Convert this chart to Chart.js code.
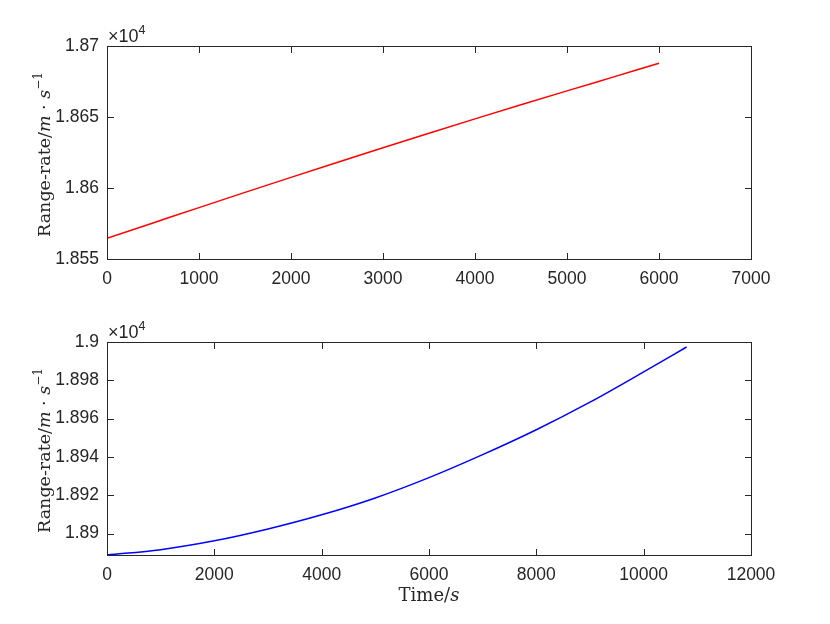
<!DOCTYPE html>
<html>
<head>
<meta charset="utf-8">
<script src="https://cdn.jsdelivr.net/npm/chart.js@4/dist/chart.umd.min.js"></script>
<style>
    body { margin: 0; background: #fff; }
    #wrap { position: relative; width: 830px; height: 624px; }
    canvas { position: absolute; left: 0; }
</style>
</head>
<body>
<div id="wrap">
    <canvas id="topChart" width="830" height="312" style="top:0"></canvas>
    <canvas id="bottomChart" width="830" height="312" style="top:312px"></canvas>
</div>
<script>
// Top plot (red)
let timeTop = [0, 500, 1000, 1500, 2000, 2500, 3000, 3500, 4000, 4500, 5000, 5500, 6000];
let rateTop = [18564.6, 18575.4, 18586.2, 18596.9, 18607.5, 18618.0, 18628.4,
               18638.6, 18648.7, 18658.6, 18668.4, 18678.1, 18687.8];
let xTicksTop = [0, 1000, 2000, 3000, 4000, 5000, 6000, 7000];
let yTicksTop = [18550, 18600, 18650, 18700];

// Bottom plot (blue)
let timeBottom = [0, 1000, 2000, 3000, 4000, 5000, 6000, 7000, 8000, 9000, 10000, 10800];
let rateBottom = [18888.8, 18891.6, 18896.2, 18902.4, 18909.8, 18918.6,
                  18929.2, 18941.2, 18954.2, 18968.6, 18984.4, 18997.4];
let xTicksBottom = [0, 2000, 4000, 6000, 8000, 10000, 12000];
let yTicksBottom = [18900, 18920, 18940, 18960, 18980, 19000];

const axisColor = "#262626";
const tickFont = { family: "Liberation Sans", size: 17.5 };
const serif = "DejaVu Serif";
const tickLen = 6.5;

// draw text made of several font runs
function drawParts(ctx, parts, x, y, align) {
    let total = 0;
    parts.forEach(p => { ctx.font = p[1]; total += ctx.measureText(p[0]).width; });
    let cx = align === "left" ? x : x - total / 2;
    parts.forEach(p => {
        ctx.font = p[1];
        ctx.fillText(p[0], cx, y - (p[2] || 0));
        cx += ctx.measureText(p[0]).width;
    });
}

const yTitle = [
    ["Range-rate/", "17.5px " + serif],
    ["m", "italic 17.5px " + serif],
    [" \u00b7 ", "17.5px " + serif],
    ["s", "italic 17.5px " + serif],
    ["\u22121", "12px " + serif, 8]
];

function framePlugin(showXTitle) {
    return {
        id: "frame",
        afterDatasetsDraw(chart) {
            const ctx = chart.ctx;
            const a = chart.chartArea;
            const xs = chart.scales.x, ys = chart.scales.y;
            const l = Math.round(a.left) + 0.5, r = Math.round(a.right) + 0.5;
            const t = Math.round(a.top) + 0.5, b = Math.round(a.bottom) + 0.5;

            ctx.save();
            ctx.strokeStyle = axisColor;
            ctx.lineWidth = 1;
            ctx.strokeRect(l, t, r - l, b - t);

            // inward ticks on all four sides
            ctx.beginPath();
            xs.ticks.forEach(tk => {
                let px = Math.round(xs.getPixelForValue(tk.value)) + 0.5;
                ctx.moveTo(px, b); ctx.lineTo(px, b - tickLen);
                ctx.moveTo(px, t); ctx.lineTo(px, t + tickLen);
            });
            ys.ticks.forEach(tk => {
                let py = Math.round(ys.getPixelForValue(tk.value)) + 0.5;
                ctx.moveTo(l, py); ctx.lineTo(l + tickLen, py);
                ctx.moveTo(r, py); ctx.lineTo(r - tickLen, py);
            });
            ctx.stroke();

            ctx.fillStyle = axisColor;
            ctx.textBaseline = "alphabetic";
            ctx.textAlign = "left";

            // exponent
            drawParts(ctx, [
                ["\u00d710", "18px Liberation Sans"],
                ["4", "12.5px Liberation Sans", 8]
            ], a.left + 1, a.top - 4.5, "left");

            // y title (rotated)
            ctx.save();
            ctx.translate(50, (a.top + a.bottom) / 2 + 2);
            ctx.rotate(-Math.PI / 2);
            drawParts(ctx, yTitle, 0, 0);
            ctx.restore();

            // x title
            if (showXTitle) {
                drawParts(ctx, [
                    ["Time/", "18px " + serif],
                    ["s", "italic 18px " + serif]
                ], (a.left + a.right) / 2, 289);
            }
            ctx.restore();
        }
    };
}

function makeChart(id, xs, ys, color, xMin, xMax, xTicks, yMin, yMax, yTicks, pad, xHeight, showXTitle) {
    let ctx = document.getElementById(id).getContext("2d");
    return new Chart(ctx, {
        type: "line",
        data: {
            datasets: [{
                data: xs.map((x, i) => ({ x: x, y: ys[i] })),
                borderColor: color,
                borderWidth: 1.5,
                pointRadius: 0,
                fill: false,
                cubicInterpolationMode: "monotone"
            }]
        },
        options: {
            responsive: false,
            animation: false,
            devicePixelRatio: 1,
            layout: { padding: pad },
            plugins: { legend: { display: false }, tooltip: { enabled: false } },
            scales: {
                x: {
                    type: "linear",
                    min: xMin,
                    max: xMax,
                    afterBuildTicks: s => { s.ticks = xTicks.map(v => ({ value: v })); },
                    afterFit: s => { s.height = xHeight; },
                    grid: { display: false, drawTicks: false },
                    border: { display: false },
                    ticks: {
                        padding: 10,
                        color: axisColor,
                        font: tickFont,
                        maxRotation: 0,
                        autoSkip: false,
                        callback: v => String(v)
                    }
                },
                y: {
                    type: "linear",
                    min: yMin,
                    max: yMax,
                    afterBuildTicks: s => { s.ticks = yTicks.map(v => ({ value: v })); },
                    afterFit: s => { s.width = 107; },
                    grid: { display: false, drawTicks: false },
                    border: { display: false },
                    ticks: {
                        padding: 8,
                        color: axisColor,
                        font: tickFont,
                        autoSkip: false,
                        callback: v => String(parseFloat((v / 10000).toFixed(4)))
                    }
                }
            }
        },
        plugins: [framePlugin(showXTitle)]
    });
}

makeChart("topChart", timeTop, rateTop, "#ff0000",
    0, 7000, xTicksTop, 18550, 18700, yTicksTop,
    { top: 46, right: 79, bottom: 0, left: 0 }, 53, false);

makeChart("bottomChart", timeBottom, rateBottom, "#0000ff",
    0, 12000, xTicksBottom, 18888.8, 19000, yTicksBottom,
    { top: 30, right: 79, bottom: 0, left: 0 }, 69, true);
</script>
</body>
</html>
